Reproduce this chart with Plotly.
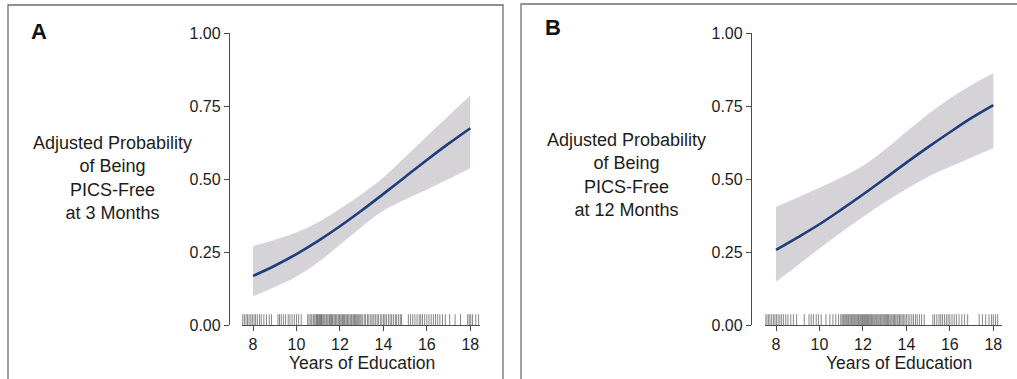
import plotly.graph_objects as go

W, H = 1017, 379

# ---- data -----------------------------------------------------------------
years = [8, 9, 10, 11, 12, 13, 14, 15, 16, 17, 18]

# Panel A: PICS-free at 3 months
a_mean = [0.168, 0.203, 0.243, 0.288, 0.338, 0.392, 0.449, 0.507, 0.565, 0.621, 0.674]
a_upper = [0.270, 0.292, 0.317, 0.352, 0.398, 0.448, 0.505, 0.575, 0.646, 0.717, 0.786]
a_lower = [0.098, 0.130, 0.166, 0.215, 0.275, 0.336, 0.392, 0.430, 0.464, 0.500, 0.537]

# Panel B: PICS-free at 12 months
b_mean = [0.257, 0.300, 0.345, 0.395, 0.447, 0.501, 0.556, 0.609, 0.660, 0.709, 0.753]
b_upper = [0.405, 0.437, 0.470, 0.505, 0.545, 0.600, 0.662, 0.722, 0.776, 0.822, 0.862]
b_lower = [0.148, 0.205, 0.262, 0.318, 0.370, 0.420, 0.466, 0.508, 0.542, 0.574, 0.605]

# jittered years of education of individual patients (rug)
a_rug = [
    7.53, 7.6, 7.68, 7.75, 7.82, 7.9, 7.97, 8.05, 8.12, 8.2, 8.3, 8.38, 8.5,
    8.62, 8.75, 8.85, 9.15, 9.22, 9.3, 9.4, 9.5, 9.62, 9.7, 9.8, 9.9, 10.0,
    10.1, 10.22, 10.52, 10.58, 10.66, 10.71, 10.78, 10.84, 10.9, 10.93,
    10.97, 11.02, 11.06, 11.11, 11.14, 11.17, 11.22, 11.26, 11.31, 11.37,
    11.41, 11.46, 11.52, 11.57, 11.61, 11.66, 11.72, 11.77, 11.81, 11.86,
    11.92, 11.97, 12.01, 12.06, 12.12, 12.16, 12.21, 12.27, 12.32, 12.36,
    12.41, 12.47, 12.52, 12.56, 12.62, 12.67, 12.71, 12.77, 12.82, 12.87,
    12.92, 12.97, 13.03, 13.12, 13.18, 13.27, 13.33, 13.42, 13.48, 13.56,
    13.63, 13.71, 13.77, 13.86, 13.93, 14.01, 14.07, 14.14, 14.23, 14.31,
    14.38, 14.46, 14.55, 14.61, 14.7, 14.78, 14.84, 15.15, 15.25, 15.35,
    15.45, 15.55, 15.65, 15.72, 15.8, 15.9, 16.0, 16.1, 16.2, 16.3, 16.4,
    16.5, 16.6, 16.72, 16.85, 17.05, 17.3, 17.55, 17.88, 17.95, 18.02,
    18.1, 18.25, 18.38,
]
b_rug = [
    7.5, 7.58, 7.65, 7.72, 7.8, 7.88, 7.95, 8.02, 8.1, 8.18, 8.26, 8.35,
    8.45, 8.55, 8.68, 8.8, 8.95, 9.3, 9.52, 9.62, 9.72, 9.85, 9.95, 10.08,
    10.3, 10.48, 10.62, 10.75, 10.88, 10.98, 11.04, 11.09, 11.13, 11.18,
    11.23, 11.27, 11.32, 11.36, 11.41, 11.46, 11.5, 11.55, 11.6, 11.64,
    11.69, 11.74, 11.79, 11.83, 11.88, 11.93, 11.98, 12.02, 12.07, 12.12,
    12.17, 12.21, 12.26, 12.31, 12.36, 12.4, 12.45, 12.5, 12.55, 12.6,
    12.64, 12.69, 12.74, 12.79, 12.83, 12.88, 12.93, 12.98, 13.03, 13.08,
    13.13, 13.18, 13.24, 13.29, 13.34, 13.4, 13.45, 13.51, 13.57, 13.62,
    13.68, 13.74, 13.8, 13.86, 13.93, 14.0, 14.08, 14.16, 14.25, 14.33,
    14.42, 14.5, 14.6, 14.7, 14.82, 15.22, 15.3, 15.4, 15.5, 15.58, 15.66,
    15.75, 15.84, 15.92, 16.0, 16.1, 16.2, 16.3, 16.42, 16.55, 16.68,
    16.82, 17.35, 17.5, 17.65, 17.8, 17.92, 18.0, 18.1, 18.2,
]

x_ticks = [8, 10, 12, 14, 16, 18]
y_ticks = [0.0, 0.25, 0.5, 0.75, 1.0]
y_title_a = "Adjusted Probability<br>of Being<br>PICS-Free<br>at 3 Months"
y_title_b = "Adjusted Probability<br>of Being<br>PICS-Free<br>at 12 Months"
x_title = "Years of Education"

# ---- styling --------------------------------------------------------------
FONT = "Liberation Sans, Arial, Helvetica, sans-serif"
TEXT = "#1c1c1c"
AXIS = "#4a4a4a"
BAND = "#d5d2d8"
LINE = "#1f3d7a"
RUG = "rgba(55,55,55,0.6)"
RUG_TOP = 0.037


def px_x(p):
    return p / W


def px_y(p):
    return 1 - p / H


def rug_xy(values):
    xs, ys = [], []
    for v in values:
        xs += [v, v, None]
        ys += [0, RUG_TOP, None]
    return xs, ys


fig = go.Figure()


def add_panel(xa, ya, lower, upper, mean, rug):
    fig.add_trace(go.Scatter(x=years, y=lower, mode="lines", line=dict(width=0, shape="spline"),
                             xaxis=xa, yaxis=ya, hoverinfo="skip"))
    fig.add_trace(go.Scatter(x=years, y=upper, mode="lines", line=dict(width=0, shape="spline"),
                             fill="tonexty", fillcolor=BAND, xaxis=xa, yaxis=ya, hoverinfo="skip"))
    rx, ry = rug_xy(rug)
    fig.add_trace(go.Scatter(x=rx, y=ry, mode="lines", line=dict(color=RUG, width=1),
                             xaxis=xa, yaxis=ya, hoverinfo="skip"))
    fig.add_trace(go.Scatter(x=years, y=mean, mode="lines",
                             line=dict(color=LINE, width=2.6, shape="spline"),
                             xaxis=xa, yaxis=ya))


add_panel("x", "y", a_lower, a_upper, a_mean, a_rug)
add_panel("x2", "y2", b_lower, b_upper, b_mean, b_rug)

tick_font = dict(family=FONT, size=16, color=TEXT)
x_common = dict(showline=True, linecolor=AXIS, linewidth=1.3, ticks="outside", ticklen=5,
                tickcolor=AXIS, tickwidth=1.3, tickvals=x_ticks, showgrid=False,
                zeroline=False, tickfont=tick_font, fixedrange=True, automargin=False)
y_common = dict(range=[0, 1], showline=True, linecolor=AXIS, linewidth=1.3, ticks="outside",
                ticklen=5, tickcolor=AXIS, tickwidth=1.3, tickvals=y_ticks, tickformat=".2f",
                showgrid=False, zeroline=False, tickfont=tick_font, anchor="free",
                domain=[px_y(325), px_y(33)], fixedrange=True, automargin=False)

fig.update_layout(
    width=W, height=H, autosize=False,
    margin=dict(l=0, r=0, t=0, b=0, pad=0, autoexpand=False),
    paper_bgcolor="white", plot_bgcolor="rgba(0,0,0,0)",
    showlegend=False,
    font=dict(family=FONT, color=TEXT),
    xaxis=dict(domain=[px_x(242), px_x(480)], range=[7.494, 18.446], anchor="y", **x_common),
    yaxis=dict(position=px_x(229), **y_common),
    xaxis2=dict(domain=[px_x(765), px_x(1002)], range=[7.494, 18.40], anchor="y2", **x_common),
    yaxis2=dict(position=px_x(751), **y_common),
)

# panel frames
fig.add_shape(type="rect", xref="paper", yref="paper", x0=px_x(8), x1=px_x(503),
              y0=-0.05, y1=px_y(5), line=dict(color="#6e6e6e", width=1.3))
fig.add_shape(type="rect", xref="paper", yref="paper", x0=px_x(521), x1=1.05,
              y0=-0.05, y1=px_y(4), line=dict(color="#6e6e6e", width=1.3))

label_font = dict(family=FONT, size=18, color=TEXT)
title_font = dict(family=FONT, size=17.5, color=TEXT)
letter_font = dict(family=FONT, size=22, color="#111")
notes = [
    dict(text="<b>A</b>", x=px_x(38.5), y=px_y(31.5), font=letter_font),
    dict(text="<b>B</b>", x=px_x(552.5), y=px_y(27), font=letter_font),
    dict(text=y_title_a, x=px_x(112), y=px_y(177.5), font=label_font, align="center"),
    dict(text=y_title_b, x=px_x(626), y=px_y(175), font=label_font, align="center"),
    dict(text=x_title, x=px_x(361.7), y=px_y(362.5), font=title_font),
    dict(text=x_title, x=px_x(899), y=px_y(362.5), font=title_font),
]
for n in notes:
    fig.add_annotation(xref="paper", yref="paper", xanchor="center", yanchor="middle",
                       showarrow=False, **n)

fig.write_html("out.html", config={"responsive": False, "displayModeBar": False},
               post_script="document.body.style.margin='0';")
